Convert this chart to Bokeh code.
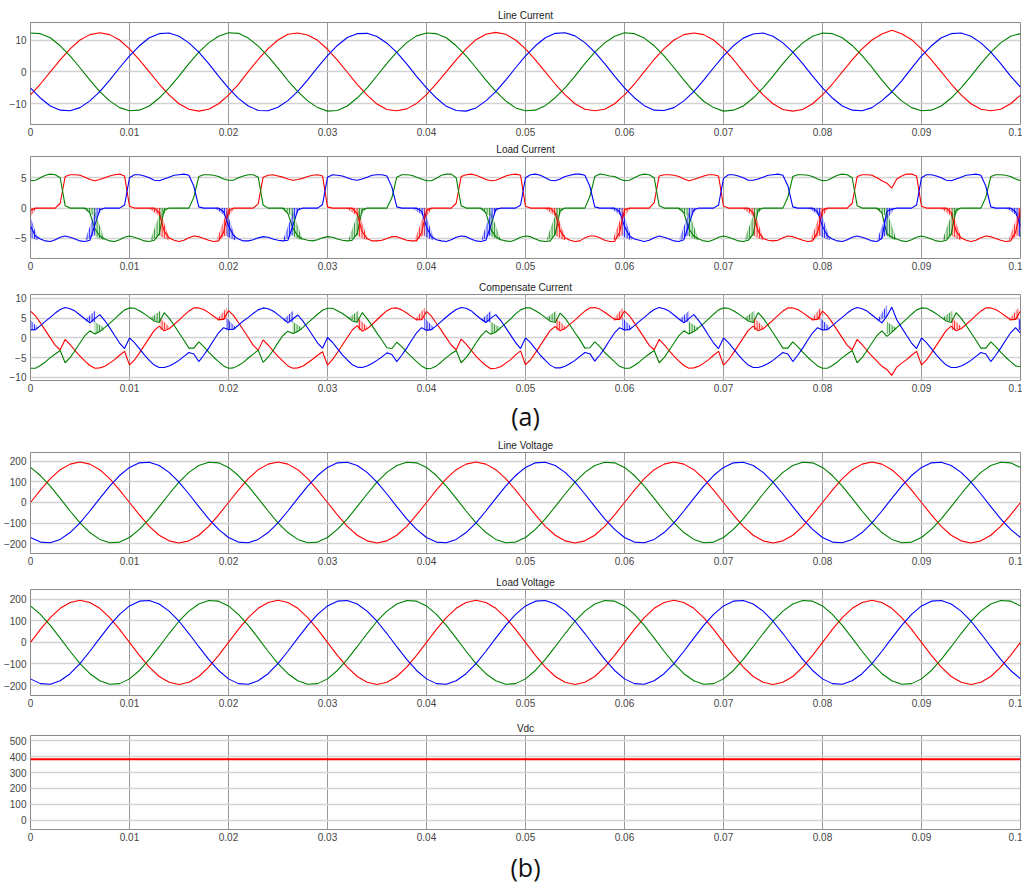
from bokeh.plotting import figure
from bokeh.layouts import column
from bokeh.models import Range1d, FixedTicker, ColumnDataSource
from bokeh.embed import file_html
from bokeh.resources import INLINE

# ------------------------------------------------------------------ data
x_ticks = [0, 0.01, 0.02, 0.03, 0.04, 0.05, 0.06, 0.07, 0.08, 0.09, 0.1]
x_tick_labels = ["0", "0.01", "0.02", "0.03", "0.04", "0.05", "0.06", "0.07", "0.08", "0.09", "0.1"]
current_ticks = [-10, 0, 10]
load_ticks = [-5, 0, 5]
comp_ticks = [-10, -5, 0, 5, 10]
volt_ticks = [-200, -100, 0, 100, 200]
vdc_ticks = [0, 100, 200, 300, 400, 500]

titles = ["Line Current", "Load Current", "Compensate Current", "Line Voltage", "Load Voltage", "Vdc"]

# sample instants (s): 1 ms grid and 0.5 ms grid
t_coarse = [round(0.001 * i, 4) for i in range(101)]
t_fine = [round(0.0005 * i, 4) for i in range(201)]

# Line current (A), 1 ms samples
line_ia = [
    -7.2, -3.8, 0.0, 3.8, 7.2, 10.0, 11.7, 12.3, 11.7, 10.0, 7.2, 3.8, 0.0, -3.8, -7.2, -10.0, -11.7, -12.3, -11.7, -10.0,
    -7.3, -3.9, 0.1, 3.9, 7.3, 10.0, 11.8, 12.2, 11.6, 9.9, 7.1, 3.7, -0.1, -3.9, -7.3, -10.1, -11.8, -12.2, -11.6, -9.9,
    -7.1, -3.7, 0.0, 3.8, 7.2, 10.1, 11.8, 12.4, 11.8, 10.0, 7.2, 3.8, 0.0, -3.8, -7.2, -10.0, -11.7, -12.2, -11.7, -10.0,
    -7.2, -3.8, 0.1, 3.9, 7.3, 10.0, 11.7, 12.2, 11.7, 10.0, 7.3, 3.9, 0.0, -3.8, -7.2, -10.0, -11.8, -12.3, -11.8, -10.0,
    -7.2, -3.8, 0.0, 3.8, 7.2, 10.0, 11.9, 13.1, 12.0, 10.1, 7.2, 3.8, 0.0, -3.8, -7.2, -10.0, -11.7, -12.2, -11.7, -10.0,
    -7.3]
line_ib = [
    -5.0, -8.2, -10.7, -12.0, -12.2, -11.2, -9.1, -6.2, -2.6, 1.3, 5.0, 8.2, 10.7, 12.0, 12.2, 11.2, 9.1, 6.2, 2.6, -1.3,
    -5.1, -8.3, -10.7, -12.1, -12.2, -11.1, -9.0, -6.1, -2.5, 1.4, 5.1, 8.3, 10.8, 12.0, 12.1, 11.1, 9.0, 6.1, 2.5, -1.4,
    -5.0, -8.2, -10.8, -12.1, -12.3, -11.3, -9.1, -6.2, -2.6, 1.3, 5.0, 8.2, 10.7, 12.1, 12.3, 11.3, 9.2, 6.2, 2.6, -1.3,
    -5.0, -8.1, -10.6, -12.0, -12.1, -11.2, -9.1, -6.2, -2.6, 1.3, 5.0, 8.2, 10.6, 11.9, 12.2, 11.2, 9.1, 6.2, 2.6, -1.3,
    -5.0, -8.2, -10.7, -12.0, -12.2, -11.2, -9.0, -6.3, -2.8, 1.2, 5.0, 8.2, 10.7, 12.0, 12.2, 11.2, 9.1, 6.2, 2.6, -1.3,
    -4.8]
line_ic = [
    12.2, 12.0, 10.7, 8.2, 5.0, 1.3, -2.6, -6.2, -9.1, -11.2, -12.2, -12.0, -10.7, -8.2, -5.0, -1.3, 2.6, 6.2, 9.1, 11.2,
    12.3, 12.1, 10.6, 8.1, 4.9, 1.2, -2.7, -6.2, -9.1, -11.2, -12.3, -12.1, -10.7, -8.2, -5.0, -1.2, 2.7, 6.2, 9.2, 11.3,
    12.2, 12.0, 10.7, 8.2, 5.0, 1.3, -2.6, -6.1, -9.1, -11.3, -12.2, -12.0, -10.6, -8.1, -5.0, -1.3, 2.6, 6.2, 9.1, 11.2,
    12.3, 12.0, 10.6, 8.2, 5.0, 1.3, -2.6, -6.2, -9.2, -11.2, -12.3, -12.0, -10.7, -8.2, -5.0, -1.3, 2.6, 6.1, 9.1, 11.2,
    12.2, 12.0, 10.7, 8.3, 5.1, 1.4, -2.6, -6.2, -9.1, -11.2, -12.2, -12.0, -10.7, -8.2, -5.0, -1.3, 2.6, 6.2, 9.1, 11.2,
    12.0]

# Load current (A), 0.5 ms samples
load_ia = [
    -0.4, 0, 0, 0, 0, 0, 0.8, 5.2, 5.5, 5.5, 5.4, 5.1, 4.7, 4.5, 4.7, 5.0, 5.3, 5.5, 5.6, 5.3,
    0.3, 0, 0, 0, 0, 0, -0.8, -3.8, -4.9, -5.3, -5.5, -5.3, -4.9, -4.6, -4.7, -5.0, -5.3, -5.5, -5.4, -4.0,
    -0.5, 0, 0, 0, 0, 0, 0.7, 5.1, 5.4, 5.5, 5.3, 5.1, 4.8, 4.6, 4.7, 4.9, 5.2, 5.4, 5.5, 5.3,
    0.2, 0, 0, 0, 0, 0, -0.9, -3.9, -5.0, -5.4, -5.4, -5.3, -5.0, -4.7, -4.7, -5.0, -5.3, -5.4, -5.4, -4.1,
    -0.4, 0, 0, 0, 0, 0, 0.8, 5.2, 5.5, 5.6, 5.4, 5.1, 4.7, 4.5, 4.6, 4.9, 5.3, 5.5, 5.6, 5.4,
    0.3, 0, 0, 0, 0, 0, -0.8, -3.7, -4.9, -5.3, -5.5, -5.4, -4.9, -4.6, -4.6, -4.9, -5.3, -5.5, -5.5, -4.0,
    -0.3, 0, 0, 0, 0, 0, 0.9, 5.3, 5.5, 5.5, 5.4, 5.2, 4.8, 4.5, 4.7, 5.0, 5.3, 5.5, 5.5, 5.3,
    0.3, 0, 0, 0, 0, 0, -0.8, -3.8, -5.0, -5.3, -5.4, -5.3, -4.9, -4.6, -4.7, -5.0, -5.3, -5.5, -5.4, -4.0,
    -0.4, 0, 0, 0, 0, 0, 0.8, 5.2, 5.5, 5.5, 5.4, 5.0, 4.5, 4.1, 3.3, 4.8, 5.3, 5.6, 5.6, 5.3,
    0.3, 0, 0, 0, 0, 0, -0.8, -3.8, -4.9, -5.3, -5.5, -5.3, -4.9, -4.6, -4.7, -5.0, -5.3, -5.5, -5.4, -4.0,
    -0.4]
load_ib = [
    -3.0, -4.6, -5.1, -5.4, -5.5, -5.2, -4.8, -4.6, -4.8, -5.1, -5.4, -5.5, -5.3, -2.8, -0.3, 0, 0, 0, 0, 0.5,
    5.0, 5.5, 5.5, 5.3, 5.0, 4.6, 4.5, 4.8, 5.1, 5.4, 5.5, 5.6, 5.4, 3.6, 0.2, 0, 0, 0, 0, -0.6,
    -2.9, -4.5, -5.1, -5.4, -5.4, -5.2, -4.9, -4.7, -4.8, -5.1, -5.3, -5.4, -5.3, -2.9, -0.3, 0, 0, 0, 0, 0.6,
    5.1, 5.5, 5.4, 5.3, 5.0, 4.7, 4.6, 4.8, 5.1, 5.4, 5.5, 5.5, 5.3, 3.5, 0.2, 0, 0, 0, 0, -0.5,
    -3.1, -4.7, -5.2, -5.4, -5.5, -5.2, -4.8, -4.6, -4.7, -5.1, -5.4, -5.5, -5.3, -2.8, -0.2, 0, 0, 0, 0, 0.5,
    5.0, 5.5, 5.6, 5.4, 5.0, 4.6, 4.5, 4.8, 5.2, 5.4, 5.6, 5.6, 5.4, 3.6, 0.2, 0, 0, 0, 0, -0.6,
    -3.0, -4.6, -5.1, -5.3, -5.5, -5.3, -4.9, -4.6, -4.8, -5.1, -5.4, -5.5, -5.2, -2.7, -0.3, 0, 0, 0, 0, 0.5,
    4.9, 5.5, 5.5, 5.3, 5.0, 4.6, 4.6, 4.8, 5.1, 5.4, 5.5, 5.6, 5.4, 3.7, 0.2, 0, 0, 0, 0, -0.6,
    -3.0, -4.6, -5.1, -5.4, -5.5, -5.2, -4.8, -4.6, -4.8, -5.1, -5.4, -5.5, -5.0, -0.5, -0.2, 0, 0, 0, 0, 0.5,
    5.0, 5.5, 5.5, 5.3, 5.0, 4.6, 4.5, 4.8, 5.1, 5.4, 5.5, 5.6, 5.4, 3.6, 0.2, 0, 0, 0, 0, -0.6,
    -3.0]
load_ic = [
    4.5, 4.6, 5.0, 5.4, 5.6, 5.5, 5.0, 0.4, 0, 0, 0, 0, -0.8, -3.4, -4.6, -5.1, -5.4, -5.5, -5.2, -4.8,
    -4.6, -4.8, -5.1, -5.4, -5.5, -5.3, -4.3, -0.3, 0, 0, 0, 0, 0, 1.8, 5.2, 5.5, 5.5, 5.4, 5.2, 4.8,
    4.6, 4.6, 5.0, 5.3, 5.5, 5.5, 5.1, 0.5, 0, 0, 0, 0, -0.9, -3.3, -4.6, -5.1, -5.3, -5.4, -5.2, -4.9,
    -4.7, -4.8, -5.1, -5.3, -5.4, -5.3, -4.2, -0.3, 0, 0, 0, 0, 0, 1.7, 5.1, 5.5, 5.5, 5.4, 5.1, 4.8,
    4.5, 4.5, 4.9, 5.4, 5.6, 5.6, 5.0, 0.4, 0, 0, 0, 0, -0.8, -3.5, -4.7, -5.2, -5.4, -5.5, -5.2, -4.8,
    -4.6, -4.7, -5.1, -5.4, -5.5, -5.4, -4.3, -0.4, 0, 0, 0, 0, 0, 1.9, 5.2, 5.6, 5.5, 5.3, 5.2, 4.8,
    4.5, 4.6, 5.0, 5.4, 5.6, 5.5, 5.0, 0.4, 0, 0, 0, 0, -0.8, -3.4, -4.6, -5.1, -5.4, -5.5, -5.2, -4.8,
    -4.6, -4.8, -5.1, -5.4, -5.5, -5.3, -4.3, -0.3, 0, 0, 0, 0, 0, 1.8, 5.2, 5.5, 5.5, 5.4, 5.2, 4.8,
    4.5, 4.6, 5.0, 5.4, 5.6, 5.5, 5.0, 0.4, 0, 0, 0, 0, -0.8, -4.2, -4.8, -5.1, -5.4, -5.5, -5.2, -4.8,
    -4.6, -4.8, -5.1, -5.4, -5.5, -5.3, -4.3, -0.3, 0, 0, 0, 0, 0, 1.8, 5.2, 5.5, 5.5, 5.4, 5.2, 4.8,
    4.5]

# Compensate current (A), 0.5 ms samples
comp_ia = [
    6.8, 5.6, 3.8, 1.9, 0, -1.9, -3.0, -0.4, -1.7, -3.2, -4.6, -5.9, -7.0, -7.7, -7.6, -7.2, -6.4, -5.5, -4.4, -3.4,
    -6.9, -5.6, -3.8, -1.9, 0, 1.9, 3.0, 1.8, 2.3, 3.4, 4.5, 5.7, 6.8, 7.6, 7.6, 7.2, 6.4, 5.5, 4.6, 4.7,
    6.9, 5.7, 3.9, 2.0, 0.1, -1.9, -3.1, -0.5, -1.8, -3.3, -4.7, -5.9, -7.1, -7.7, -7.6, -7.2, -6.3, -5.4, -4.4, -3.5,
    -6.9, -5.5, -3.7, -1.8, 0.1, 2.0, 3.1, 1.7, 2.3, 3.4, 4.6, 5.8, 6.9, 7.5, 7.6, 7.1, 6.3, 5.4, 4.6, 4.6,
    6.7, 5.5, 3.7, 1.9, 0, -1.8, -3.0, -0.3, -1.6, -3.1, -4.6, -5.9, -7.0, -7.8, -7.7, -7.3, -6.4, -5.5, -4.3, -3.3,
    -6.8, -5.6, -3.8, -1.9, 0, 1.9, 2.9, 1.8, 2.4, 3.5, 4.5, 5.7, 6.8, 7.6, 7.7, 7.3, 6.5, 5.6, 4.7, 4.7,
    6.8, 5.6, 3.8, 1.9, 0, -1.9, -3.0, -0.4, -1.7, -3.2, -4.6, -5.9, -7.0, -7.7, -7.6, -7.2, -6.4, -5.5, -4.4, -3.4,
    -6.9, -5.6, -3.8, -1.9, 0, 1.9, 3.0, 1.8, 2.3, 3.4, 4.5, 5.7, 6.8, 7.6, 7.6, 7.2, 6.4, 5.5, 4.6, 4.7,
    6.8, 5.6, 3.8, 1.9, 0, -1.9, -3.0, -0.4, -1.7, -3.2, -4.6, -5.9, -7.2, -8.0, -9.5, -7.4, -6.4, -5.5, -4.4, -3.4,
    -6.9, -5.6, -3.8, -1.9, 0, 1.9, 3.0, 1.8, 2.3, 3.4, 4.5, 5.7, 6.8, 7.6, 7.6, 7.2, 6.4, 5.5, 4.6, 4.7,
    6.8]
comp_ib = [
    2.0, 2.1, 3.1, 4.2, 5.2, 6.3, 7.2, 7.7, 7.4, 6.8, 5.8, 4.8, 3.8, 4.9, 5.9, 4.4, 2.6, 0.6, -1.3, -2.7,
    0, -1.2, -2.7, -4.3, -5.7, -6.9, -7.5, -7.5, -7.1, -6.5, -5.7, -4.7, -3.7, -4.1, -6.0, -4.4, -2.6, -0.6, 1.3, 2.6,
    2.1, 2.2, 3.2, 4.3, 5.2, 6.2, 7.1, 7.6, 7.4, 6.8, 5.9, 4.9, 3.8, 4.8, 5.8, 4.3, 2.5, 0.6, -1.3, -2.6,
    0.1, -1.1, -2.7, -4.3, -5.6, -6.8, -7.4, -7.5, -7.1, -6.5, -5.7, -4.8, -3.8, -4.2, -6.0, -4.4, -2.6, -0.6, 1.3, 2.6,
    1.9, 2.1, 3.1, 4.2, 5.3, 6.3, 7.2, 7.7, 7.5, 6.9, 5.8, 4.8, 3.9, 5.0, 5.9, 4.4, 2.6, 0.7, -1.2, -2.7,
    0, -1.2, -2.8, -4.4, -5.7, -6.9, -7.6, -7.6, -7.2, -6.5, -5.7, -4.7, -3.7, -4.0, -5.9, -4.4, -2.6, -0.6, 1.3, 2.6,
    2.0, 2.1, 3.1, 4.2, 5.2, 6.3, 7.2, 7.7, 7.4, 6.8, 5.8, 4.8, 3.8, 4.9, 5.9, 4.4, 2.6, 0.6, -1.3, -2.7,
    0, -1.2, -2.7, -4.3, -5.7, -6.9, -7.5, -7.5, -7.1, -6.5, -5.7, -4.7, -3.7, -4.1, -6.0, -4.4, -2.6, -0.6, 1.3, 2.6,
    2.0, 2.1, 3.1, 4.2, 5.2, 6.3, 7.2, 7.7, 7.4, 6.8, 5.8, 4.8, 3.8, 5.5, 7.8, 4.6, 2.6, 0.6, -1.3, -2.7,
    0, -1.2, -2.7, -4.3, -5.7, -6.9, -7.5, -7.5, -7.1, -6.5, -5.7, -4.7, -3.7, -4.1, -6.0, -4.4, -2.6, -0.6, 1.3, 2.6,
    1.2]
comp_ic = [
    -7.7, -7.7, -7.0, -6.1, -5.0, -4.1, -3.2, -6.3, -5.0, -3.2, -1.3, 0.6, 1.8, 1.0, 1.6, 2.6, 3.7, 4.8, 6.0, 7.1,
    7.6, 7.5, 6.9, 6.1, 5.2, 4.3, 3.9, 6.4, 5.0, 3.2, 1.3, -0.6, -2.6, -2.6, -1.0, -2.2, -3.6, -4.9, -6.0, -7.1,
    -7.7, -7.6, -7.0, -6.2, -5.1, -4.1, -3.1, -6.2, -4.9, -3.2, -1.2, 0.6, 1.7, 1.1, 1.6, 2.6, 3.8, 4.9, 6.0, 7.0,
    7.5, 7.5, 6.9, 6.2, 5.3, 4.3, 4.0, 6.4, 4.9, 3.1, 1.2, -0.6, -2.5, -2.7, -1.1, -2.2, -3.6, -4.8, -6.0, -7.1,
    -7.8, -7.7, -7.1, -6.1, -5.0, -4.0, -3.2, -6.3, -5.0, -3.3, -1.3, 0.5, 1.8, 0.9, 1.5, 2.6, 3.7, 4.8, 6.1, 7.1,
    7.6, 7.6, 6.9, 6.1, 5.2, 4.2, 3.9, 6.3, 5.0, 3.2, 1.3, -0.5, -2.6, -2.5, -1.0, -2.2, -3.7, -4.9, -6.1, -7.2,
    -7.7, -7.7, -7.0, -6.1, -5.0, -4.1, -3.2, -6.3, -5.0, -3.2, -1.3, 0.6, 1.8, 1.0, 1.6, 2.6, 3.7, 4.8, 6.0, 7.1,
    7.6, 7.5, 6.9, 6.1, 5.2, 4.3, 3.9, 6.4, 5.0, 3.2, 1.3, -0.6, -2.6, -2.6, -1.0, -2.2, -3.6, -4.9, -6.0, -7.1,
    -7.7, -7.7, -7.0, -6.1, -5.0, -4.1, -3.2, -6.3, -5.0, -3.2, -1.3, 0.6, 1.8, 0.4, 1.4, 2.6, 3.7, 4.8, 6.0, 7.1,
    7.6, 7.5, 6.9, 6.1, 5.2, 4.3, 3.9, 6.4, 5.0, 3.2, 1.3, -0.6, -2.6, -2.6, -1.0, -2.2, -3.6, -4.9, -6.0, -7.1,
    -7.3]

# switching-chatter bursts at the negative-rail commutations (s)
handoff_t = [-0.0002, 0.0065, 0.0131, 0.0198, 0.0265, 0.0331, 0.0398, 0.0465,
             0.0531, 0.0598, 0.0665, 0.0731, 0.0798, 0.0865, 0.0931, 0.0998]
handoff_in = ["b", "g", "r", "b", "g", "r", "b", "g", "r", "b", "g", "r", "b", "g", "r", "b"]
handoff_out = ["r", "b", "g", "r", "b", "g", "r", "b", "g", "r", "b", "g", "r", "b", "g", "r"]
# compensate-current level of the incoming / outgoing phase around each commutation
comp_in_b0 = [2.0, 1.0, 2.0, 2.0, 1.0, 2.0, 2.0, 1.0, 2.0, 2.0, 1.0, 2.0, 2.0, 1.0, 2.0, 2.0]
comp_in_b1 = [2.4, 2.3, 2.5, 2.4, 2.3, 2.5, 2.4, 2.3, 2.5, 2.4, 2.3, 2.5, 2.4, 2.3, 2.5, 2.4]
comp_out_b0 = [4.6, 4.5, 5.0, 4.6, 4.5, 5.0, 4.6, 4.5, 5.0, 4.6, 4.5, 5.0, 4.6, 4.5, 5.0, 4.6]
comp_out_b1 = [4.8, 4.0, 4.0, 4.8, 4.0, 4.0, 4.8, 4.0, 4.0, 4.8, 4.0, 4.0, 4.8, 5.5, 4.0, 4.8]
# chatter envelopes in the load current (lo0, hi0, lo1, hi1)
load_env_in_after = [-4.6, -0.6, -5.3, -4.9]
load_env_out_before = [-5.3, -4.9, -4.4, -0.8]
load_env_in_before = [0.0, 0.0, -1.4, 0.0]
load_env_out_after = [-1.8, 0.0, 0.0, 0.0]
# chatter spread on the compensate current, relative to its level
comp_env_in_after = [0.0, 3.0, -0.2, 0.3]
comp_env_out_before = [-0.2, 0.2, 0.0, 2.8]

# Voltages (V), 1 ms samples
line_va = [
    0, 60, 115, 158, 185, 195, 185, 158, 115, 60, 0, -60, -115, -158, -185, -195, -185, -158, -115, -60,
    0, 60, 115, 158, 185, 195, 185, 158, 115, 60, 0, -60, -115, -158, -185, -195, -185, -158, -115, -60,
    0, 60, 115, 158, 185, 195, 185, 158, 115, 60, 0, -60, -115, -158, -185, -195, -185, -158, -115, -60,
    0, 60, 115, 158, 185, 195, 185, 158, 115, 60, 0, -60, -115, -158, -185, -195, -185, -158, -115, -60,
    0, 60, 115, 158, 185, 195, 185, 158, 115, 60, 0, -60, -115, -158, -185, -195, -185, -158, -115, -60,
    0]
line_vb = [
    -169, -191, -194, -178, -145, -98, -41, 20, 79, 130, 169, 191, 194, 178, 145, 98, 41, -20, -79, -130,
    -169, -191, -194, -178, -145, -98, -41, 20, 79, 130, 169, 191, 194, 178, 145, 98, 41, -20, -79, -130,
    -169, -191, -194, -178, -145, -98, -41, 20, 79, 130, 169, 191, 194, 178, 145, 98, 41, -20, -79, -130,
    -169, -191, -194, -178, -145, -98, -41, 20, 79, 130, 169, 191, 194, 178, 145, 98, 41, -20, -79, -130,
    -169, -191, -194, -178, -145, -98, -41, 20, 79, 130, 169, 191, 194, 178, 145, 98, 41, -20, -79, -130,
    -169]
line_vc = [
    169, 130, 79, 20, -41, -98, -145, -178, -194, -191, -169, -130, -79, -20, 41, 98, 145, 178, 194, 191,
    169, 130, 79, 20, -41, -98, -145, -178, -194, -191, -169, -130, -79, -20, 41, 98, 145, 178, 194, 191,
    169, 130, 79, 20, -41, -98, -145, -178, -194, -191, -169, -130, -79, -20, 41, 98, 145, 178, 194, 191,
    169, 130, 79, 20, -41, -98, -145, -178, -194, -191, -169, -130, -79, -20, 41, 98, 145, 178, 194, 191,
    169, 130, 79, 20, -41, -98, -145, -178, -194, -191, -169, -130, -79, -20, 41, 98, 145, 178, 194, 191,
    169]
load_va = list(line_va)
load_vb = list(line_vb)
load_vc = list(line_vc)

vdc_t = [0.0, 0.1]
vdc = [383, 383]

# ------------------------------------------------------------------ style
RED, GREEN, BLUE = "#ff0000", "#008000", "#0000ff"
PHASE_COLOR = {"r": RED, "g": GREEN, "b": BLUE}
FONT = "Liberation Sans"
LW = 1.1


def make_fig(title, height, b_top, b_bottom, y0, y1, yticks):
    p = figure(width=1022, height=height, output_backend="svg", toolbar_location=None,
               x_range=Range1d(0, 0.1), y_range=Range1d(y0, y1),
               min_border_top=b_top, min_border_bottom=b_bottom,
               min_border_left=0, min_border_right=2, title=title)
    p.title.align = "center"
    p.title.text_font = FONT
    p.title.text_font_size = "10px"
    p.title.text_font_style = "normal"
    p.title.text_color = "#222222"
    p.title.standoff = 3
    p.xaxis.ticker = FixedTicker(ticks=x_ticks)
    p.xaxis.major_label_overrides = dict(zip(x_ticks, x_tick_labels))
    p.yaxis.ticker = FixedTicker(ticks=yticks)
    for ax in (p.xaxis[0], p.yaxis[0]):
        ax.major_tick_line_color = None
        ax.minor_tick_line_color = None
        ax.major_tick_out = 0
        ax.major_tick_in = 0
        ax.minor_tick_out = 0
        ax.minor_tick_in = 0
        ax.axis_line_color = None
        ax.major_label_text_font = FONT
        ax.major_label_text_font_size = "10px"
        ax.major_label_text_color = "#444444"
    p.xaxis.major_label_standoff = 3
    p.yaxis.major_label_standoff = 4
    p.xgrid.grid_line_color = "#9a9a9a"
    p.xgrid.grid_line_width = 1
    p.ygrid.grid_line_color = "#d2d2d2"
    p.ygrid.grid_line_width = 1.3
    p.outline_line_color = "#8a8a8a"
    p.background_fill_color = "white"
    p.border_fill_color = "white"
    return p


def add_bursts(p, xs, ys, cs):
    src = ColumnDataSource(dict(xs=xs, ys=ys, c=cs))
    p.patches("xs", "ys", source=src, fill_color="c", fill_alpha=0.18, line_color="c",
              line_alpha=0.25, line_width=0.5,
              hatch_pattern="vertical_line", hatch_color="c", hatch_scale=2.5,
              hatch_weight=1, hatch_alpha=0.9)


# ---- Line current
p1 = make_fig(titles[0], 139, 22, 15, -16.5, 15.5, current_ticks)
p1.line(t_coarse, line_ia, color=RED, line_width=LW)
p1.line(t_coarse, line_ic, color=GREEN, line_width=LW)
p1.line(t_coarse, line_ib, color=BLUE, line_width=LW)

# ---- Load current
p2 = make_fig(titles[1], 138, 17, 19, -8.3, 8.5, load_ticks)
p2.line(t_fine, load_ia, color=RED, line_width=LW)
p2.line(t_fine, load_ic, color=GREEN, line_width=LW)
p2.line(t_fine, load_ib, color=BLUE, line_width=LW)
xs, ys, cs = [], [], []
for h, pin, pout in zip(handoff_t, handoff_in, handoff_out):
    for phase, ta, tb, env in ((pin, h, h + 0.0009, load_env_in_after),
                               (pout, h - 0.0009, h, load_env_out_before),
                               (pin, h - 0.0012, h, load_env_in_before),
                               (pout, h, h + 0.0008, load_env_out_after)):
        lo0, hi0, lo1, hi1 = env
        xs.append([ta, ta, tb, tb])
        ys.append([lo0, hi0, hi1, lo1])
        cs.append(PHASE_COLOR[phase])
add_bursts(p2, xs, ys, cs)

# ---- Compensate current
p3 = make_fig(titles[2], 158, 17, 49, -10.8, 11.0, comp_ticks)
p3.line(t_fine, comp_ia, color=RED, line_width=LW)
p3.line(t_fine, comp_ic, color=GREEN, line_width=LW)
p3.line(t_fine, comp_ib, color=BLUE, line_width=LW)
xs, ys, cs = [], [], []
for i, h in enumerate(handoff_t):
    a0, a1, a2, a3 = comp_env_in_after
    xs.append([h, h, h + 0.0009, h + 0.0009])
    ys.append([comp_in_b0[i] + a0, comp_in_b0[i] + a1, comp_in_b1[i] + a3, comp_in_b1[i] + a2])
    cs.append(PHASE_COLOR[handoff_in[i]])
    o0, o1, o2, o3 = comp_env_out_before
    xs.append([h - 0.0009, h - 0.0009, h, h])
    ys.append([comp_out_b0[i] + o0, comp_out_b0[i] + o1, comp_out_b1[i] + o3, comp_out_b1[i] + o2])
    cs.append(PHASE_COLOR[handoff_out[i]])
add_bursts(p3, xs, ys, cs)
p3.xaxis.axis_label = "(a)"
p3.xaxis.axis_label_text_font = "Open Sans"
p3.xaxis.axis_label_text_font_size = "25px"
p3.xaxis.axis_label_text_font_style = "normal"
p3.xaxis.axis_label_text_color = "#111111"
p3.xaxis.axis_label_standoff = 4

# ---- Line voltage
p4 = make_fig(titles[3], 137, 17, 19, -246, 241, volt_ticks)
p4.line(t_coarse, line_va, color=RED, line_width=LW)
p4.line(t_coarse, line_vc, color=GREEN, line_width=LW)
p4.line(t_coarse, line_vb, color=BLUE, line_width=LW)

# ---- Load voltage
p5 = make_fig(titles[4], 146, 17, 23, -246, 245, volt_ticks)
p5.line(t_coarse, load_va, color=RED, line_width=LW)
p5.line(t_coarse, load_vc, color=GREEN, line_width=LW)
p5.line(t_coarse, load_vb, color=BLUE, line_width=LW)

# ---- Vdc
p6 = make_fig(titles[5], 168, 17, 51, -58, 533, vdc_ticks)
p6.line(vdc_t, vdc, color=RED, line_width=2)
p6.xaxis.axis_label = "(b)"
p6.xaxis.axis_label_text_font = "Open Sans"
p6.xaxis.axis_label_text_font_size = "25px"
p6.xaxis.axis_label_text_font_style = "normal"
p6.xaxis.axis_label_text_color = "#111111"
p6.xaxis.axis_label_standoff = 6

layout = column(p1, p2, p3, p4, p5, p6, spacing=0)
open("out.html", "w").write(file_html(layout, INLINE))
